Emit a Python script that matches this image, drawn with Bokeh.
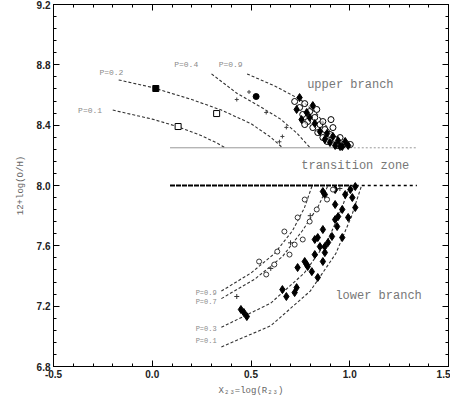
from bokeh.plotting import figure
from bokeh.models import LinearAxis, FixedTicker, Range1d
from bokeh.core.properties import value
from bokeh.embed import file_html
from bokeh.resources import INLINE

# ---------------- data ----------------
x_ticks = [-0.5, 0.0, 0.5, 1.0, 1.5]
x_tick_labels = ["-0.5", "0.0", "0.5", "1.0", "1.5"]
y_ticks = [6.8, 7.2, 7.6, 8.0, 8.4, 8.8, 9.2]
y_tick_labels = ["6.8", "7.2", "7.6", "8.0", "8.4", "8.8", "9.2"]

# upper-branch model curves
upA_x = [-0.17, 0.0, 0.2, 0.35, 0.5, 0.6, 0.66]
upA_y = [8.70, 8.65, 8.57, 8.50, 8.41, 8.32, 8.25]
upB_x = [-0.2, 0.0, 0.13, 0.25, 0.33, 0.37]
upB_y = [8.50, 8.44, 8.39, 8.33, 8.28, 8.25]
upC_x = [0.30, 0.43, 0.55, 0.65, 0.73, 0.80]
upC_y = [8.74, 8.61, 8.52, 8.44, 8.35, 8.25]
upD_x = [0.48, 0.62, 0.75, 0.83, 0.89, 0.94]
upD_y = [8.74, 8.66, 8.57, 8.48, 8.38, 8.25]
upper_curve_labels = ["P=0.2", "P=0.1", "P=0.4", "P=0.9"]

# lower-branch model curves
lo1_x = [0.35, 0.50, 0.62, 0.71, 0.77, 0.81]
lo1_y = [7.30, 7.42, 7.55, 7.70, 7.85, 8.00]
lo2_x = [0.35, 0.52, 0.66, 0.76, 0.84, 0.89]
lo2_y = [7.25, 7.38, 7.53, 7.70, 7.86, 8.00]
lo3_x = [0.35, 0.60, 0.77, 0.89, 0.96, 1.00]
lo3_y = [7.06, 7.22, 7.42, 7.64, 7.85, 8.00]
lo4_x = [0.35, 0.60, 0.80, 0.93, 1.01, 1.06]
lo4_y = [6.93, 7.07, 7.30, 7.55, 7.80, 8.00]
lower_curve_labels = ["P=0.9", "P=0.7", "P=0.3", "P=0.1"]

# boundaries
upper_limit_y = 8.25
lower_limit_y = 8.0
limit_x = [0.09, 1.34]

# observed points, upper branch
up_open_x = [0.721, 0.746, 0.772, 0.762, 0.797, 0.787, 0.823, 0.813, 0.849, 0.838, 0.874, 0.864,
             0.900, 0.885, 0.915, 0.926, 0.951, 0.936, 0.967, 1.003, 0.772, 0.833, 0.864, 0.905]
up_open_y = [8.557, 8.517, 8.543, 8.471, 8.490, 8.424, 8.451, 8.384, 8.404, 8.351, 8.371, 8.318,
             8.338, 8.292, 8.384, 8.305, 8.318, 8.265, 8.272, 8.272, 8.404, 8.504, 8.424, 8.437]
up_fill_x = [0.731, 0.756, 0.797, 0.813, 0.849, 0.874, 0.900, 0.915, 0.941, 0.962, 0.977, 0.926,
             0.885, 0.823, 0.782, 0.746, 0.992, 0.951]
up_fill_y = [8.504, 8.437, 8.451, 8.530, 8.358, 8.305, 8.285, 8.325, 8.298, 8.258, 8.292, 8.265,
             8.345, 8.411, 8.484, 8.583, 8.265, 8.258]
up_small_x = [0.428, 0.577, 0.659, 0.679, 0.644, 0.49]
up_small_y = [8.570, 8.484, 8.325, 8.385, 8.290, 8.62]
up_sq_open_x = [0.131, 0.326]
up_sq_open_y = [8.391, 8.477]
up_sq_fill_x = [0.018]
up_sq_fill_y = [8.643]
up_dot_x = [0.526]
up_dot_y = [8.590]

# observed points, lower branch
lo_fill_x = [0.659, 0.679, 0.721, 0.731, 0.464, 0.479, 0.449, 0.772, 0.787, 0.808, 0.864, 0.874,
             0.849, 0.890, 0.823, 0.910, 0.926, 0.941, 0.962, 0.936, 0.864, 0.874, 0.926, 1.013,
             1.028, 0.992, 0.962, 0.838, 0.874, 0.823, 0.782, 0.736, 0.838, 1.003, 0.977, 0.926,
             1.028, 0.864]
lo_fill_y = [7.310, 7.264, 7.290, 7.323, 7.158, 7.131, 7.178, 7.496, 7.463, 7.429, 7.496, 7.555,
             7.595, 7.622, 7.642, 7.662, 7.774, 7.794, 7.841, 7.728, 7.708, 7.940, 7.874, 7.920,
             7.854, 7.788, 7.655, 7.655, 7.595, 7.542, 7.476, 7.456, 7.390, 7.973, 7.940, 7.973,
             7.993, 7.960]
lo_open_x = [0.736, 0.669, 0.633, 0.618, 0.762, 0.797, 0.833, 0.772, 0.695, 0.885, 0.721, 0.577,
             0.915, 0.541]
lo_open_y = [7.788, 7.695, 7.562, 7.476, 7.642, 7.761, 7.841, 7.907, 7.542, 7.907, 7.608, 7.410,
             7.973, 7.496]
lo_cross_x = [0.428, 0.60, 0.70, 0.80, 0.95]
lo_cross_y = [7.264, 7.45, 7.62, 7.80, 7.98]

region_labels = ["upper branch", "transition zone", "lower branch"]
region_x = [1.003, 1.028, 1.146]
region_y = [8.663, 8.132, 7.27]

# ---------------- figure ----------------
p = figure(width=450, height=398, x_range=Range1d(-0.5, 1.5), y_range=Range1d(6.8, 9.2),
           output_backend="svg", toolbar_location=None,
           min_border_left=53, min_border_right=2, min_border_top=4, min_border_bottom=30)
p.grid.visible = False
p.outline_line_color = "black"
p.background_fill_color = "white"

mono = "Liberation Mono"
gray = "#8a8a8a"

def style_axis(ax, ticks, labels, minor, show_labels=True):
    ax.ticker = FixedTicker(ticks=ticks, minor_ticks=minor)
    ax.major_tick_in = 6
    ax.major_tick_out = 0
    ax.minor_tick_in = 3
    ax.minor_tick_out = 0
    ax.axis_line_color = "black"
    ax.major_tick_line_color = "black"
    ax.minor_tick_line_color = "black"
    if show_labels:
        ax.major_label_overrides = {t: l for t, l in zip(ticks, labels)}
        ax.major_label_text_font = "Liberation Sans"
        ax.major_label_text_font_style = "bold"
        ax.major_label_text_font_size = "10px"
        ax.major_label_text_color = "#222222"
        ax.major_label_standoff = 3
    else:
        ax.major_label_overrides = {t: "" for t in ticks}
        ax.major_label_text_font_size = "1px"
        ax.major_label_standoff = 0

x_minor = [round(-0.5 + 0.1 * i, 2) for i in range(21)]
y_minor = [round(6.8 + 0.08 * i, 2) for i in range(31)]

xa = p.xaxis[0]
style_axis(xa, x_ticks, x_tick_labels, x_minor)
xa.axis_label = "X\u2082\u2083=log(R\u2082\u2083)"
xa.axis_label_text_font = mono
xa.axis_label_text_font_style = "normal"
xa.axis_label_text_font_size = "9px"
xa.axis_label_text_color = "#666666"
xa.axis_label_standoff = 5

ya = p.yaxis[0]
style_axis(ya, y_ticks, y_tick_labels, y_minor)
ya.axis_label = "12+log(O/H)"
ya.axis_label_text_font = mono
ya.axis_label_text_font_style = "normal"
ya.axis_label_text_font_size = "9px"
ya.axis_label_text_color = "#666666"
ya.axis_label_standoff = 8

ra = LinearAxis()
style_axis(ra, y_ticks, y_tick_labels, y_minor, show_labels=False)
p.add_layout(ra, "right")
ta = LinearAxis()
style_axis(ta, x_ticks, x_tick_labels, x_minor, show_labels=False)
p.add_layout(ta, "above")

# model curves
for cx, cy in [(upA_x, upA_y), (upB_x, upB_y), (upC_x, upC_y), (upD_x, upD_y),
               (lo1_x, lo1_y), (lo2_x, lo2_y), (lo3_x, lo3_y), (lo4_x, lo4_y)]:
    p.line(cx, cy, line_color="#333333", line_width=1.1, line_dash="3 2")

# boundaries
p.line([limit_x[0], 1.0], [upper_limit_y, upper_limit_y], line_color="#999999", line_width=1)
p.line([1.0, limit_x[1]], [upper_limit_y, upper_limit_y], line_color="#999999", line_width=1,
       line_dash="2 2")
p.line([limit_x[0], 1.0], [lower_limit_y, lower_limit_y], line_color="black", line_width=2,
       line_dash="5 1")
p.line([1.0, limit_x[1]], [lower_limit_y, lower_limit_y], line_color="black", line_width=1.5,
       line_dash="3 3")

# observed points
p.scatter(up_open_x, up_open_y, marker="circle", size=6, fill_color="white",
          fill_alpha=0.6, line_color="black", line_width=1)
p.scatter(up_fill_x, up_fill_y, marker="diamond", size=8, fill_color="black", line_color="black")
p.scatter(up_small_x, up_small_y, marker="cross", size=4, line_color="#444444")
p.scatter(up_sq_open_x, up_sq_open_y, marker="square", size=6, fill_color="white",
          line_color="black")
p.scatter(up_sq_fill_x, up_sq_fill_y, marker="square", size=6, fill_color="black",
          line_color="black")
p.scatter(up_dot_x, up_dot_y, marker="circle", size=6, fill_color="black", line_color="black")

p.scatter(lo_fill_x, lo_fill_y, marker="diamond", size=8, fill_color="black", line_color="black")
p.scatter(lo_open_x, lo_open_y, marker="circle", size=5, fill_color="white",
          line_color="#333333")
p.scatter(lo_cross_x, lo_cross_y, marker="cross", size=5, line_color="#333333")

# curve labels
p.text([-0.146, -0.254], [8.75, 8.50], text=upper_curve_labels[:2], text_align="right",
       text_baseline="middle", text_font=value(mono), text_font_size="8px", text_color=gray)
p.text([0.172, 0.397], [8.80, 8.80], text=upper_curve_labels[2:], text_align="center",
       text_baseline="middle", text_font=value(mono), text_font_size="8px", text_color=gray)
p.text([0.326] * 4, [7.29, 7.23, 7.05, 6.97], text=lower_curve_labels, text_align="right",
       text_baseline="middle", text_font=value(mono), text_font_size="7px", text_color=gray)

# region labels
p.text(region_x, region_y, text=region_labels, text_align="center", text_baseline="middle",
       text_font=value(mono), text_font_size="12px", text_color="#777777")

open("out.html", "w").write(file_html(p, INLINE))
